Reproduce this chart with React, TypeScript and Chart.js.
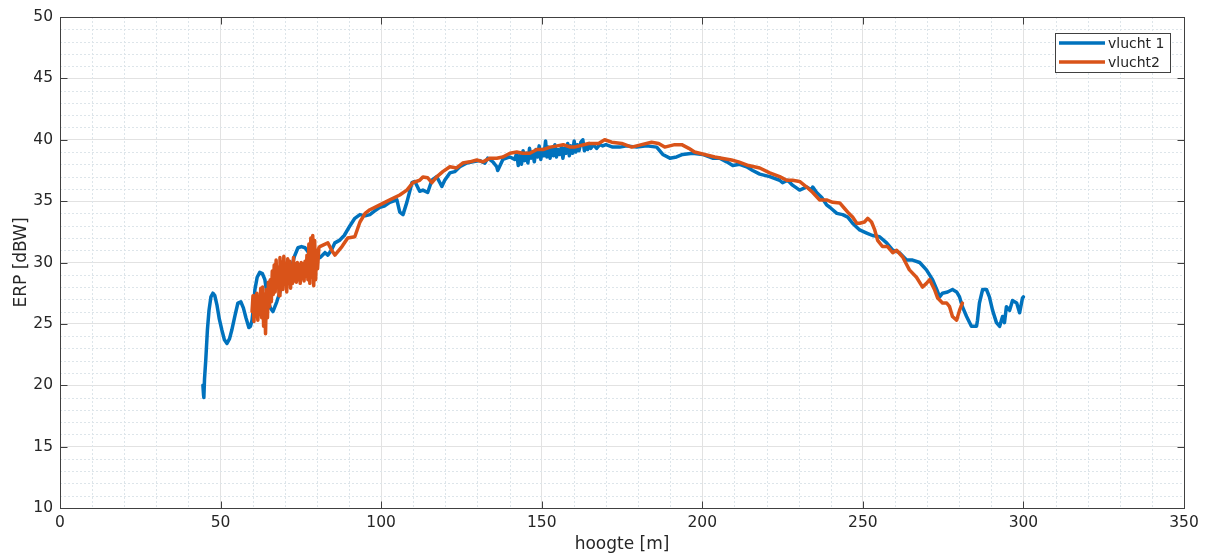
import React, { useEffect, useRef } from 'react';
import { Chart, registerables } from 'chart.js';

Chart.register(...registerables);

// ---- data ----
const seriesLabels = ['vlucht 1', 'vlucht2'];
const seriesColors = ['#0072BD', '#D95319'];
const xTickValues = [0, 50, 100, 150, 200, 250, 300, 350];
const yTickValues = [10, 15, 20, 25, 30, 35, 40, 45, 50];

const vlucht1X = [
  44.5, 44.7, 44.8, 45.0, 45.4, 45.9, 46.4, 47.0, 47.6, 48.2, 48.9, 49.6, 50.4, 51.2, 52.0, 52.8, 53.5, 54.5, 55.4, 56.3,
  57.1, 57.9, 58.8, 59.3, 59.8, 60.3, 60.7, 61.4, 62.2, 63.0, 63.8, 64.7, 65.5, 66.3, 67.5, 69.0, 70.5, 72.0, 73.0, 74.1,
  75.2, 76.3, 78.0, 79.5, 81.0, 82.5, 83.4, 84.5, 85.6, 87.0, 88.5, 90.3, 91.8, 93.4, 95.0, 96.5, 98.0, 99.6, 101.0, 102.7,
  104.9, 105.8, 106.8, 108.0, 109.6, 110.5, 112.0, 113.0, 114.5, 115.8, 117.3, 118.3, 118.9, 119.8, 121.4, 122.9, 124.5, 126.7, 128.5, 130.7,
  132.3, 133.2, 134.8, 136.0, 136.3, 137.9, 140.1, 141.6,
  142.2, 142.7, 143.2, 143.7, 144.2, 144.7, 145.2, 145.7, 146.2, 146.7, 147.2, 147.7, 148.2, 148.7, 149.2, 149.7, 150.2, 150.7, 151.2, 151.6,
  152.1, 152.6, 153.1, 153.6, 154.1, 154.6, 155.1, 155.6, 156.1, 156.6, 157.1, 157.6, 158.1, 158.6, 159.1, 159.6, 160.1, 160.6, 161.1, 161.6,
  162.2, 162.8, 163.3, 163.8, 164.3, 164.8, 165.3, 166.1, 167.1, 168.1, 169.0, 170.0,
  172.1, 174.3, 176.5, 179.6, 182.7, 185.8, 187.7, 189.9, 192.0, 193.9, 197.0, 200.1, 203.2, 205.4, 207.6, 209.5, 211.6, 213.8, 215.7, 217.9,
  221.0, 224.1, 225.0, 226.6, 228.1, 230.3, 232.5, 234.0, 234.4, 235.6, 237.2, 238.7, 239.7, 240.6, 241.9, 243.7, 245.3, 246.8, 249.0, 251.2,
  253.0, 255.2, 257.4, 259.3, 261.4, 263.6, 265.5, 267.7, 269.8, 271.7, 273.0, 273.9, 274.8, 276.4, 277.9, 279.2, 280.1, 281.0, 282.3, 283.8,
  285.4, 285.7, 286.3, 287.3, 288.5, 289.4, 290.4, 291.6, 292.6, 293.5, 294.1, 294.7, 295.7, 296.6, 297.9, 298.8, 299.7, 300.0,
];
const vlucht1Y = [
  20.0, 19.2, 19.0, 20.5, 22.1, 24.5, 26.1, 27.2, 27.5, 27.3, 26.5, 25.4, 24.5, 23.7, 23.4, 23.8, 24.5, 25.7, 26.7, 26.8,
  26.3, 25.5, 24.7, 24.8, 25.3, 26.5, 27.8, 28.8, 29.2, 29.1, 28.6, 27.0, 26.3, 26.0, 26.8, 28.0, 28.8, 29.5, 30.5, 31.2,
  31.3, 31.2, 30.6, 30.3, 30.4, 30.8, 30.6, 31.0, 31.6, 31.8, 32.2, 33.0, 33.6, 33.9, 33.8, 33.9, 34.2, 34.5, 34.6, 34.9,
  35.1, 34.1, 33.9, 34.9, 36.5, 36.6, 35.8, 35.9, 35.7, 36.7, 37.0, 36.5, 36.2, 36.7, 37.3, 37.4, 37.8, 38.1, 38.2, 38.3,
  38.1, 38.5, 38.2, 37.8, 37.5, 38.4, 38.6, 38.4,
  38.9, 37.9, 38.7, 38.0, 39.1, 38.3, 38.9, 38.1, 39.3, 38.5, 39.0, 38.2, 39.2, 38.6, 39.5, 38.4, 39.2, 38.7, 39.9, 38.6,
  39.4, 38.5, 39.3, 38.7, 39.6, 38.6, 39.2, 38.8, 39.4, 38.5, 39.3, 38.9, 39.7, 38.7, 39.5, 38.9, 39.9, 39.0, 39.6, 39.1,
  39.8, 40.0, 39.1, 39.6, 39.2, 39.7, 39.3, 39.6, 39.3, 39.6, 39.5, 39.6,
  39.4, 39.4, 39.5, 39.4, 39.5, 39.4, 38.8, 38.5, 38.6, 38.8, 38.9, 38.8, 38.5, 38.5, 38.2, 37.9, 38.0, 37.8, 37.5, 37.2,
  37.0, 36.7, 36.5, 36.7, 36.3, 35.9, 36.15, 35.9, 36.15, 35.7, 35.3, 34.7, 34.5, 34.3, 34.0, 33.9, 33.7, 33.2, 32.65, 32.4,
  32.2, 32.1, 31.6, 31.0, 30.8, 30.2, 30.2, 30.0, 29.4, 28.6, 27.8, 27.2, 27.5, 27.6, 27.8, 27.6, 27.2, 26.4, 25.6, 24.8,
  24.8, 25.3, 26.7, 27.8, 27.8, 27.2, 26.1, 25.1, 24.8, 25.6, 25.1, 26.4, 26.1, 26.9, 26.7, 25.9, 27.1, 27.2,
];

const vlucht2X = [
  59.8, 60.1, 60.4, 60.7, 61.0, 61.3, 61.6, 61.9, 62.2, 62.5, 62.8, 63.1, 63.4, 63.7, 64.0, 64.3, 64.6, 64.9, 65.2, 65.5,
  65.8, 66.1, 66.4, 66.7, 67.0, 67.3, 67.6, 67.9, 68.2, 68.5, 68.8, 69.1, 69.4, 69.7, 70.0, 70.3, 70.6, 70.9, 71.2, 71.5,
  71.8, 72.1, 72.4, 72.7, 73.0, 73.3, 73.6, 73.9, 74.2, 74.5, 74.8, 75.1, 75.4, 75.7, 76.0, 76.3, 76.6, 76.9, 77.2, 77.5,
  77.8, 78.1, 78.4, 78.7, 79.0, 79.3, 79.6, 79.9, 80.2, 80.6,
  80.9, 83.4, 84.6, 85.6, 87.8, 89.6, 91.8, 93.4, 95.0, 96.5, 99.6, 102.7, 105.8, 108.0, 109.9, 112.0, 113.0, 114.5, 115.8, 117.3,
  119.2, 121.4, 123.5, 125.4, 127.6, 129.8, 131.7, 133.9, 136.0, 137.9, 140.1, 142.2, 144.1, 146.3, 148.5, 150.4, 152.6, 154.8, 156.7, 158.9,
  160.2, 164.6, 167.7, 169.6, 171.8, 174.9, 178.0, 181.1, 184.2, 186.4, 188.3, 191.4, 193.6, 195.8, 197.6, 200.7, 203.9, 206.0, 209.1, 211.3,
  214.4, 217.9, 221.0, 224.1, 226.3, 228.1, 230.3, 232.5, 234.4, 236.5, 238.7, 240.6, 242.8, 244.3, 245.3, 246.8, 248.1, 249.0, 250.5, 251.5,
  252.7, 253.7, 254.6, 256.1, 257.7, 259.3, 260.5, 262.4, 264.5, 266.7, 268.6, 269.8, 270.8, 272.3, 273.3, 274.8, 276.1, 277.0, 277.9, 279.2,
  280.1, 280.7, 281.0,
];
const vlucht2Y = [
  26.0, 27.3, 25.2, 27.0, 25.6, 27.5, 25.3, 26.8, 25.8, 27.9, 25.5, 28.0, 24.8, 27.4, 24.2, 27.8, 25.5, 28.4, 26.4, 28.6,
  26.8, 29.3, 27.4, 29.8, 27.6, 30.2, 28.0, 29.6, 27.3, 30.4, 28.1, 30.0, 27.8, 30.5, 28.4, 29.8, 27.6, 30.3, 28.6, 30.1,
  27.9, 29.7, 28.3, 30.4, 28.5, 29.9, 28.4, 30.0, 28.6, 29.8, 28.3, 30.0, 28.7, 29.9, 28.5, 30.1, 28.9, 30.6, 28.6, 31.5,
  28.3, 32.0, 28.8, 32.2, 28.1, 31.8, 28.6, 31.0, 29.5, 31.2,
  31.3, 31.6, 31.0, 30.6, 31.3, 32.0, 32.1, 33.3, 34.0, 34.3, 34.7, 35.1, 35.5, 35.9, 36.5, 36.7, 36.97, 36.9, 36.5, 36.97,
  37.4, 37.8, 37.7, 38.1, 38.2, 38.35, 38.2, 38.5, 38.5, 38.6, 38.9, 39.0, 38.9, 38.9, 39.2, 39.2, 39.4, 39.5, 39.6, 39.4,
  39.4, 39.7, 39.7, 40.0, 39.8, 39.7, 39.4, 39.6, 39.8, 39.7, 39.4, 39.6, 39.6, 39.3, 39.0, 38.8, 38.6, 38.5, 38.35, 38.2,
  37.9, 37.7, 37.3, 37.0, 36.7, 36.7, 36.6, 36.15, 35.7, 35.1, 35.1, 34.9, 34.85, 34.4, 34.1, 33.7, 33.2, 33.2, 33.3, 33.6,
  33.3, 32.65, 31.8, 31.3, 31.3, 30.8, 31.0, 30.45, 29.4, 28.8, 28.0, 28.3, 28.6, 27.8, 27.1, 26.7, 26.7, 26.4, 25.6, 25.3,
  26.1, 26.5, 26.7,
];

const FONT = '"DejaVu Sans", "Liberation Sans", sans-serif';
const AXIS_COLOR = '#404040';
const TEXT_COLOR = '#262626';

const matlabAxesPlugin = {
  id: 'matlabAxes',
  beforeDatasetsDraw(chart: any) {
    const { ctx, chartArea: a, scales } = chart;
    const x = scales.x;
    const y = scales.y;
    ctx.save();
    ctx.strokeStyle = '#dde5ea';
    ctx.lineWidth = 1;
    ctx.setLineDash([2, 2]);
    for (let v = 10; v < 350; v += 10) {
      if (v % 50 === 0) continue;
      const px = Math.round(x.getPixelForValue(v)) + 0.5;
      ctx.beginPath();
      ctx.moveTo(px, a.top);
      ctx.lineTo(px, a.bottom);
      ctx.stroke();
    }
    for (let v = 11; v < 50; v += 1) {
      if (v % 5 === 0) continue;
      const py = Math.round(y.getPixelForValue(v)) + 0.5;
      ctx.beginPath();
      ctx.moveTo(a.left, py);
      ctx.lineTo(a.right, py);
      ctx.stroke();
    }
    ctx.restore();
  },
  afterDatasetsDraw(chart: any) {
    const { ctx, chartArea: a, scales } = chart;
    const x = scales.x;
    const y = scales.y;
    const L = Math.round(a.left) + 0.5;
    const R = Math.round(a.right) + 0.5;
    const T = Math.round(a.top) + 0.5;
    const B = Math.round(a.bottom) + 0.5;
    ctx.save();
    ctx.strokeStyle = AXIS_COLOR;
    ctx.lineWidth = 1;
    ctx.setLineDash([]);
    ctx.strokeRect(L, T, R - L, B - T);
    const tl = 7;
    ctx.beginPath();
    xTickValues.forEach((v) => {
      const px = Math.round(x.getPixelForValue(v)) + 0.5;
      ctx.moveTo(px, B);
      ctx.lineTo(px, B - tl);
      ctx.moveTo(px, T);
      ctx.lineTo(px, T + tl);
    });
    yTickValues.forEach((v) => {
      const py = Math.round(y.getPixelForValue(v)) + 0.5;
      ctx.moveTo(L, py);
      ctx.lineTo(L + tl, py);
      ctx.moveTo(R, py);
      ctx.lineTo(R - tl, py);
    });
    ctx.stroke();
    ctx.restore();
  },
};

const boxedLegendPlugin = {
  id: 'boxedLegend',
  afterDraw(chart: any) {
    const { ctx, chartArea: a } = chart;
    const ds = chart.data.datasets;
    ctx.save();
    ctx.font = `14px ${FONT}`;
    const maxW = Math.max(...ds.map((d: any) => ctx.measureText(d.label).width));
    const padL = 4, lineLen = 46, gap = 3, padR = 6, rowH = 19, padT = 10;
    const w = Math.round(padL + lineLen + gap + maxW + padR);
    const h = rowH * ds.length + 1;
    const right = Math.round(a.right) - 14;
    const top = Math.round(a.top) + 16;
    const left = right - w;
    ctx.fillStyle = '#ffffff';
    ctx.fillRect(left, top, w, h);
    ctx.strokeStyle = AXIS_COLOR;
    ctx.lineWidth = 1;
    ctx.strokeRect(left + 0.5, top + 0.5, w, h);
    ds.forEach((d: any, i: number) => {
      const yy = top + padT + i * rowH;
      ctx.strokeStyle = d.borderColor;
      ctx.lineWidth = 3.5;
      ctx.beginPath();
      ctx.moveTo(left + padL, yy);
      ctx.lineTo(left + padL + lineLen, yy);
      ctx.stroke();
      ctx.fillStyle = TEXT_COLOR;
      ctx.textBaseline = 'middle';
      ctx.textAlign = 'left';
      ctx.fillText(d.label, left + padL + lineLen + gap, yy + 1);
    });
    ctx.restore();
  },
};

function toPoints(xs: number[], ys: number[]) {
  return xs.map((xv, i) => ({ x: xv, y: ys[i] }));
}

export default function App() {
  const canvasRef = useRef<HTMLCanvasElement | null>(null);

  useEffect(() => {
    document.body.style.margin = '0';
    const canvas = canvasRef.current;
    if (!canvas) return;
    const chart = new Chart(canvas, {
      type: 'line',
      data: {
        datasets: [
          {
            label: seriesLabels[0],
            data: toPoints(vlucht1X, vlucht1Y),
            borderColor: seriesColors[0],
            backgroundColor: seriesColors[0],
            borderWidth: 3.5,
            pointRadius: 0,
            tension: 0,
            fill: false,
            borderJoinStyle: 'round',
            borderCapStyle: 'round',
            order: 1,
          },
          {
            label: seriesLabels[1],
            data: toPoints(vlucht2X, vlucht2Y),
            borderColor: seriesColors[1],
            backgroundColor: seriesColors[1],
            borderWidth: 3.5,
            pointRadius: 0,
            tension: 0,
            fill: false,
            borderJoinStyle: 'round',
            borderCapStyle: 'round',
            order: 0,
          },
        ],
      },
      options: {
        animation: false,
        responsive: true,
        maintainAspectRatio: false,
        layout: { padding: { top: 17, right: 31, left: 0, bottom: 0 } },
        plugins: {
          legend: { display: false },
          tooltip: { enabled: false },
        },
        scales: {
          x: {
            type: 'linear',
            min: 0,
            max: 350,
            afterFit: (s: any) => { s.height = 50; },
            afterBuildTicks: (s: any) => { s.ticks = xTickValues.map((v) => ({ value: v })); },
            ticks: {
              padding: 6,
              color: TEXT_COLOR,
              font: { family: FONT, size: 15.5 },
              maxRotation: 0,
            },
            grid: { color: '#e2e2e2', lineWidth: 1, drawTicks: false },
            border: { display: false },
            title: {
              display: true,
              text: 'hoogte [m]',
              color: TEXT_COLOR,
              font: { family: FONT, size: 17 },
              padding: { top: 0, bottom: 3 },
            },
          },
          y: {
            type: 'linear',
            min: 10,
            max: 50,
            afterFit: (s: any) => { s.width = 60; },
            afterBuildTicks: (s: any) => { s.ticks = yTickValues.map((v) => ({ value: v })); },
            ticks: {
              padding: 7,
              color: TEXT_COLOR,
              font: { family: FONT, size: 15.5 },
            },
            grid: { color: '#e2e2e2', lineWidth: 1, drawTicks: false },
            border: { display: false },
            title: {
              display: true,
              text: 'ERP [dBW]',
              color: TEXT_COLOR,
              font: { family: FONT, size: 17 },
              padding: { top: 11, bottom: 0 },
            },
          },
        },
      },
      plugins: [matlabAxesPlugin, boxedLegendPlugin],
    });
    return () => chart.destroy();
  }, []);

  return (
    <div style={{ position: 'absolute', left: 0, top: 0, width: 1215, height: 558 }}>
      <canvas ref={canvasRef} />
    </div>
  );
}
